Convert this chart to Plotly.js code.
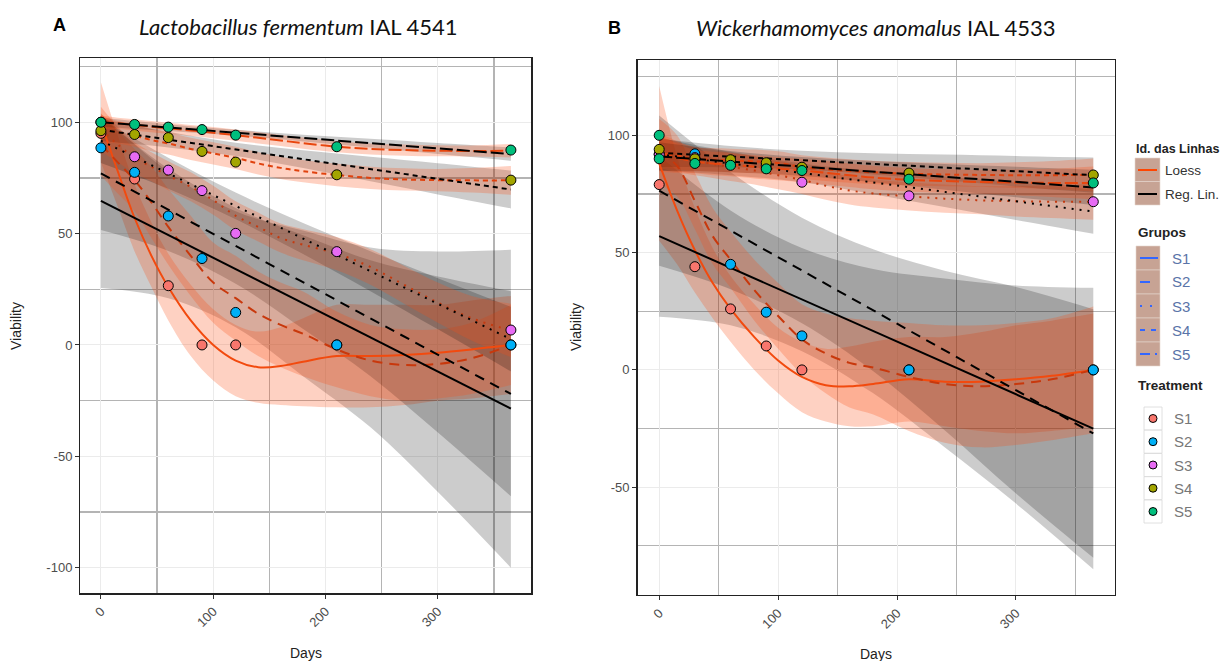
<!DOCTYPE html>
<html><head><meta charset="utf-8">
<script src="https://cdn.plot.ly/plotly-3.0.1.min.js"></script>
<style>html,body{margin:0;padding:0;background:#fff}#chart{width:1224px;height:661px}</style>
</head><body><div id="chart"></div>
<script>
// ---------------- DATA ----------------
const groups = ['S1','S2','S3','S4','S5'];
const pointColors = ['#F8766D','#00B0F6','#E76BF3','#A3A500','#00BF7D'];
const days = [0, 30, 60, 90, 120, 210, 365];
const xTicks = [0, 100, 200, 300];
const xTickText = ['0','100','200','300'];
const yTicks = [-100, -50, 0, 50, 100];
const yTickText = ['-100','-50','0','50','100'];

// Panel A: Lactobacillus fermentum IAL 4541 (observed viability)
const A_S1 = [95, 74.5, 26.6, 0, 0, 0, 0];
const A_S2 = [88.5, 77.5, 57.9, 38.8, 14.6, 0, 0];
const A_S3 = [100, 84.5, 78.5, 69.3, 50.1, 41.9, 6.7];
const A_S4 = [96.2, 94.5, 93.1, 86.9, 82.1, 76.4, 74];
const A_S5 = [100, 99, 97.8, 96.7, 94.2, 89, 87.5];
// Panel B: Wickerhamomyces anomalus IAL 4533
const B_S1 = [79, 44, 26, 10.2, 0, 0, 0];
const B_S2 = [92, 92.1, 45, 24.6, 14.5, 0, 0];
const B_S3 = [91.8, 90.5, 88, 87, 80, 74.2, 71.7];
const B_S4 = [94, 90, 89.6, 88.3, 86.4, 83.9, 83.1];
const B_S5_days = [0, 0, 30, 60, 90, 120, 210, 365];
const B_S5 = [100, 90, 88, 87.2, 85.7, 85, 81.3, 79.7];

// Linear regression lines (value at day 0 and day 365), per group S1..S5
const linDays = [0, 365];
const A_linStart = [64.7, 77, 91.7, 96.6, 100];
const A_linEnd = [-28.6, -22, 2.6, 69.8, 85.7];
const B_linStart = [57, 76.4, 92, 92.5, 91];
const B_linEnd = [-25, -27.1, 67.5, 83, 77.8];

// Regression confidence bands, read at these days
const bandDays = [0, 60, 120, 180, 240, 300, 365];
const A_linLo = [
  [25.6, 21, 8, -14, -37, -66, -100],
  [51.6, 42.2, 27.5, 7.2, -14, -39.3, -67.9],
  [81.7, 70.1, 56.4, 40.8, 24.1, 7, -11.9],
  [91.6, 88.7, 84.8, 79.4, 73.5, 67.6, 61.3],
  [98, 96.1, 94, 91.4, 88.6, 85.7, 82.7]];
const A_linHi = [
  [103.8, 77.8, 60, 51.4, 43.8, 42, 42.8],
  [102.4, 79.2, 61.5, 49.2, 38, 30.7, 24.1],
  [101.7, 84.1, 68.4, 54.8, 42.1, 30, 17.1],
  [101.6, 95.7, 90.8, 87.4, 84.5, 81.6, 78.3],
  [102, 99.1, 96.6, 94.4, 92.6, 90.7, 88.7]];
const B_linLo = [
  [22.7, 19, 8, -10, -33, -57, -85],
  [44.4, 34.4, 19.9, -0.6, -25.7, -52.7, -80.1],
  [85, 83, 80, 74.9, 69.4, 63.9, 58],
  [86.5, 86.4, 85.4, 83.3, 80.8, 78.2, 75.5],
  [85, 84.3, 82.7, 80, 76.8, 73.6, 70.3]];
const B_linHi = [
  [91.3, 68, 52, 43, 39, 36, 35],
  [108.4, 84.4, 64.9, 51.4, 42.3, 35.3, 25.9],
  [99, 93, 88, 84.9, 82.4, 79.9, 77],
  [98.5, 95.4, 93.4, 92.3, 91.8, 91.2, 90.5],
  [97, 93.3, 90.7, 89, 87.8, 86.6, 85.3]];

// Loess curves and bands, read at these days
const loessDays = [0, 15, 30, 45, 60, 80, 100, 120, 140, 160, 180, 210, 240, 270, 300, 330, 365];
const A_loess = [
  [100, 78, 57, 40, 26, 11, 0, -7, -10, -9.5, -7.5, -5, -5, -4.5, -3.5, -2, 0],
  [90, 82, 74, 64, 53, 40, 28, 21, 14, 9, 5, -2, -7, -9, -8.5, -6, 0],
  [97, 90, 84, 80, 76, 71, 65, 58, 53, 48, 45, 41, 35, 27, 19, 12, 6.5],
  [97, 95.5, 94, 92, 90.5, 88, 86, 84, 81.5, 79.5, 78, 76.3, 75, 74.3, 74, 73.9, 73.9],
  [100, 99.5, 98.8, 98, 97.3, 96.3, 95.3, 94.2, 93, 91.8, 90.6, 89, 88, 87.5, 87.2, 87.1, 87.2]];
const A_loessLo = [
  [82, 62, 42, 26, 11, -5, -16, -23, -26, -27, -27.5, -28, -28, -27, -25, -24, -22],
  [76, 68, 60, 48, 36, 22, 10, 2, -5, -10, -14, -19, -23, -25, -24, -22, -18],
  [87, 82, 77, 73.5, 69.5, 64.5, 58.5, 51.5, 46.5, 41.5, 38, 33.5, 27, 18.5, 10, 2, -5.5],
  [91, 90.5, 89, 87, 85.5, 83, 81, 79, 76.5, 74.5, 73, 71.3, 70, 69.3, 69, 68.4, 67.4],
  [97, 97, 96.3, 95.5, 94.8, 93.8, 92.8, 91.7, 90.5, 89.3, 88.1, 86.5, 85.5, 85, 84.7, 84.6, 84.2]];
const A_loessHi = [
  [118, 94, 72, 55, 41, 27, 16, 9, 6, 8, 12, 18, 18, 18, 18, 20, 22],
  [104, 96, 88, 80, 70, 58, 46, 40, 33, 28, 24, 15, 9, 7, 7, 10, 18],
  [107, 98, 91, 86.5, 82.5, 77.5, 71.5, 64.5, 59.5, 54.5, 52, 48.5, 43, 35.5, 28, 22, 18.5],
  [103, 100.5, 99, 97, 95.5, 93, 91, 89, 86.5, 84.5, 83, 81.3, 80, 79.3, 79, 79.4, 80.4],
  [103, 102, 101.3, 100.5, 99.8, 98.8, 97.8, 96.7, 95.5, 94.3, 93.1, 91.5, 90.5, 90, 89.7, 89.6, 90.2]];
const B_loess = [
  [88, 68, 51, 37, 26, 14, 4, -3, -6.5, -7, -6, -4, -5, -5, -4, -2.5, 0],
  [93, 87, 72, 57, 47, 34, 23, 13, 7, 3, 1, -3, -6, -7, -6, -4, 0],
  [92, 90.5, 89, 87.8, 86.5, 85, 83, 81, 78.5, 76.5, 75.2, 74, 73, 72.3, 71.9, 71.7, 71.7],
  [94, 91.5, 89.9, 89.6, 89.3, 88.9, 88.2, 86.5, 85.5, 84.8, 84.2, 83.6, 83.3, 83.1, 83, 83, 83.1],
  [93, 90.5, 88.8, 88, 87.5, 86.6, 85.8, 85, 84, 83, 82, 81, 80.5, 80.1, 79.9, 79.7, 79.7]];
const B_loessLo = [
  [55, 45, 33, 22, 12, 0, -10, -18, -22, -24, -24, -22, -24, -26, -27, -26, -24],
  [79, 74, 60, 45, 35, 21, 9, -2, -10, -16, -19, -26, -31, -33, -32, -30, -27],
  [84.5, 84, 83, 81.8, 80.5, 79, 77, 75, 72.5, 70.5, 69.2, 68, 67, 66.3, 65.4, 64.7, 64],
  [87, 85.5, 84.9, 84.6, 84.3, 83.9, 83.2, 81.5, 80.5, 79.8, 79.2, 78.6, 78.3, 78.1, 77.5, 77, 76.1],
  [86, 84.5, 83.8, 83, 82.5, 81.6, 80.8, 80, 79, 78, 77, 76, 75.5, 75.1, 74.4, 73.7, 72.7]];
const B_loessHi = [
  [121, 91, 69, 52, 40, 28, 18, 12, 9, 10, 12, 14, 14, 16, 19, 21, 24],
  [107, 100, 84, 69, 59, 47, 37, 28, 24, 22, 21, 20, 19, 19, 20, 22, 27],
  [99.5, 97, 95, 93.8, 92.5, 91, 89, 87, 84.5, 82.5, 81.2, 80, 79, 78.3, 78.4, 78.7, 79.4],
  [101, 97.5, 94.9, 94.6, 94.3, 93.9, 93.2, 91.5, 90.5, 89.8, 89.2, 88.6, 88.3, 88.1, 88.5, 89, 90.1],
  [100, 96.5, 93.8, 93, 92.5, 91.6, 90.8, 90, 89, 88, 87, 86, 85.5, 85.1, 85.4, 85.7, 86.7]];

// ---------------- STYLE ----------------
const dashes = ['solid', '10px,7px', '2px,6px', '5px,4px', '13px,4px'];
const loessColors = ['#F24A0E', '#C8380C', '#C43A10', '#E0420E', '#E8460E'];
const W = 1224, H = 661;
const FONT = 'Liberation Sans, Arial, sans-serif';

const traces = [];
function addPanel(xa, ya, pts, ptDays, linS, linE, linLo, linHi, lo, loLo, loHi) {
  for (let g = 0; g < 5; g++) {
    traces.push({x: bandDays, y: linLo[g], xaxis: xa, yaxis: ya, mode: 'lines', line: {width: 0, shape: 'spline'}, hoverinfo: 'skip', showlegend: false});
    traces.push({x: bandDays, y: linHi[g], xaxis: xa, yaxis: ya, mode: 'lines', fill: 'tonexty', fillcolor: 'rgba(0,0,0,0.2)', line: {width: 0, shape: 'spline'}, hoverinfo: 'skip', showlegend: false});
    traces.push({x: loessDays, y: loLo[g], xaxis: xa, yaxis: ya, mode: 'lines', line: {width: 0, shape: 'spline'}, hoverinfo: 'skip', showlegend: false});
    traces.push({x: loessDays, y: loHi[g], xaxis: xa, yaxis: ya, mode: 'lines', fill: 'tonexty', fillcolor: 'rgba(250,78,20,0.26)', line: {width: 0, shape: 'spline'}, hoverinfo: 'skip', showlegend: false});
  }
  for (let g = 0; g < 5; g++) {
    traces.push({x: loessDays, y: lo[g], xaxis: xa, yaxis: ya, mode: 'lines', line: {color: loessColors[g], width: 2, dash: dashes[g], shape: 'spline'}, showlegend: false});
  }
  for (let g = 0; g < 5; g++) {
    traces.push({x: linDays, y: [linS[g], linE[g]], xaxis: xa, yaxis: ya, mode: 'lines', line: {color: '#000', width: 2, dash: dashes[g]}, showlegend: false});
  }
  for (let g = 0; g < 5; g++) {
    traces.push({x: ptDays[g], y: pts[g], xaxis: xa, yaxis: ya, mode: 'markers', marker: {size: 10, color: pointColors[g], line: {color: '#000', width: 1}}, showlegend: false});
  }
}
addPanel('x', 'y', [A_S1, A_S2, A_S3, A_S4, A_S5], [days, days, days, days, days], A_linStart, A_linEnd, A_linLo, A_linHi, A_loess, A_loessLo, A_loessHi);
addPanel('x2', 'y2', [B_S1, B_S2, B_S3, B_S4, B_S5], [days, days, days, days, B_S5_days], B_linStart, B_linEnd, B_linLo, B_linHi, B_loess, B_loessLo, B_loessHi);

function xAxis(dom, anchor) {
  return {domain: dom, anchor: anchor, range: [-18.25, 383.25], tickmode: 'array', tickvals: xTicks, ticktext: xTickText,
    tickangle: -45, ticks: 'outside', ticklen: 4, tickcolor: '#333', showline: true, mirror: true, linecolor: '#222', linewidth: 1.4,
    showgrid: true, gridcolor: '#EBEBEB', gridwidth: 1, zeroline: false,
    minor: {tickmode: 'array', tickvals: [50, 150, 250, 350], showgrid: true, gridcolor: '#B4B4B4', gridwidth: 1.3, ticks: ''},
    tickfont: {family: FONT, size: 13, color: '#4D4D4D'}};
}
function yAxis(dom, anchor, rng) {
  return {domain: dom, anchor: anchor, range: rng, tickmode: 'array', tickvals: yTicks, ticktext: yTickText,
    ticks: 'outside', ticklen: 4, tickcolor: '#333', showline: true, mirror: true, linecolor: '#222', linewidth: 1.4,
    showgrid: true, gridcolor: '#EBEBEB', gridwidth: 1, zeroline: false,
    minor: {tickmode: 'array', tickvals: [-75, -25, 25, 75, 125], showgrid: true, gridcolor: '#B4B4B4', gridwidth: 1.3, ticks: ''},
    tickfont: {family: FONT, size: 13, color: '#4D4D4D'}};
}

const px = v => v / W, py = v => 1 - v / H;
const annotations = [];
function ann(text, x, y, o) {
  annotations.push(Object.assign({text: text, xref: 'paper', yref: 'paper', x: px(x), y: py(y), showarrow: false,
    xanchor: 'left', yanchor: 'middle', font: {family: FONT, size: 13, color: '#222'}}, o || {}));
}
const shapes = [];
function rect(x0, y0, x1, y1, fill, lc, lw) {
  shapes.push({type: 'rect', xref: 'paper', yref: 'paper', x0: px(x0), x1: px(x1), y0: py(y1), y1: py(y0), fillcolor: fill, line: {color: lc, width: lw}});
}
function seg(x0, y0, x1, y1, color, dash, w) {
  shapes.push({type: 'line', xref: 'paper', yref: 'paper', x0: px(x0), x1: px(x1), y0: py(y0), y1: py(y1), line: {color: color, dash: dash, width: w}});
}
function circ(cx, cy, r, fill) {
  shapes.push({type: 'circle', xref: 'paper', yref: 'paper', x0: px(cx - r), x1: px(cx + r), y0: py(cy + r), y1: py(cy - r), fillcolor: fill, line: {color: '#000', width: 1}});
}

// panel labels and titles
ann('<b>A</b>', 59, 25, {xanchor: 'center', font: {family: FONT, size: 18, color: '#000'}});
ann('<i>Lactobacillus fermentum</i> IAL 4541', 298, 26, {xanchor: 'center', font: {family: 'Lato, sans-serif', size: 22, color: '#111'}});
ann('<b>B</b>', 614, 28, {xanchor: 'center', font: {family: FONT, size: 18, color: '#000'}});
ann('<i>Wickerhamomyces anomalus</i> IAL 4533', 875, 28, {xanchor: 'center', font: {family: 'Lato, sans-serif', size: 22, color: '#111'}});
// axis titles
ann('Viability', 16, 326, {xanchor: 'center', textangle: -90, font: {family: FONT, size: 14, color: '#222'}});
ann('Viability', 576, 327, {xanchor: 'center', textangle: -90, font: {family: FONT, size: 14, color: '#222'}});
ann('Days', 306, 653, {xanchor: 'center', font: {family: FONT, size: 14, color: '#222'}});
ann('Days', 876, 654, {xanchor: 'center', font: {family: FONT, size: 14, color: '#222'}});

// legend: Id. das Linhas
const keyFill = '#C7A394';
ann('<b>Id. das Linhas</b>', 1134, 149, {font: {family: FONT, size: 12.5, color: '#222'}});
rect(1135, 158, 1160, 181.5, keyFill, '#E6D6CF', 0.6);
rect(1135, 181.5, 1160, 205, keyFill, '#E6D6CF', 0.6);
seg(1138, 170, 1157, 170, '#FF4500', 'solid', 2);
seg(1138, 194, 1157, 194, '#000', 'solid', 2);
ann('Loess', 1163, 170, {font: {family: FONT, size: 13.5, color: '#333'}});
ann('Reg. Lin.', 1163, 194, {font: {family: FONT, size: 13.5, color: '#333'}});
// Grupos
ann('<b>Grupos</b>', 1136, 232, {font: {family: FONT, size: 13.5, color: '#222'}});
const grpY = [258, 282, 306, 330, 354];
const grpDash = ['solid', 'solid', '2px,8px', '5px,6px', '10px,5px,2px,5px'];
const grpEnd = [1158, 1150, 1158, 1158, 1158];
for (let g = 0; g < 5; g++) {
  rect(1136, 246 + 24 * g, 1160, 270 + 24 * g, keyFill, '#E6D6CF', 0.6);
  seg(1140, grpY[g], grpEnd[g], grpY[g], '#3366FF', grpDash[g], 2);
  ann(groups[g], 1170, grpY[g], {font: {family: FONT, size: 15, color: '#5A74A8'}});
}
// Treatment
ann('<b>Treatment</b>', 1136, 385, {font: {family: FONT, size: 13.5, color: '#222'}});
const trY = [418.5, 441.7, 465, 488.2, 511.5];
for (let g = 0; g < 5; g++) {
  rect(1144, trY[g] - 11.5, 1162, trY[g] + 11.5, '#FFFFFF', '#D8D8D8', 0.8);
  circ(1153, trY[g], 4, pointColors[g]);
  ann(groups[g], 1172, trY[g], {font: {family: FONT, size: 15, color: '#777'}});
}

const layout = {
  width: W, height: 661, margin: {l: 0, r: 0, t: 0, b: 0}, paper_bgcolor: '#fff', plot_bgcolor: '#fff', showlegend: false,
  xaxis: xAxis([80.4 / W, 531.4 / W], 'y'),
  yaxis: yAxis([1 - 593.3 / H, 1 - 58.3 / H], 'x', [-111.5, 128.7]),
  xaxis2: xAxis([637.5 / W, 1115 / W], 'y2'),
  yaxis2: yAxis([1 - 595 / H, 1 - 60 / H], 'x2', [-95.95, 132.1]),
  annotations: annotations, shapes: shapes
};
Plotly.newPlot('chart', traces, layout, {displayModeBar: false, staticPlot: true});
</script></body></html>
